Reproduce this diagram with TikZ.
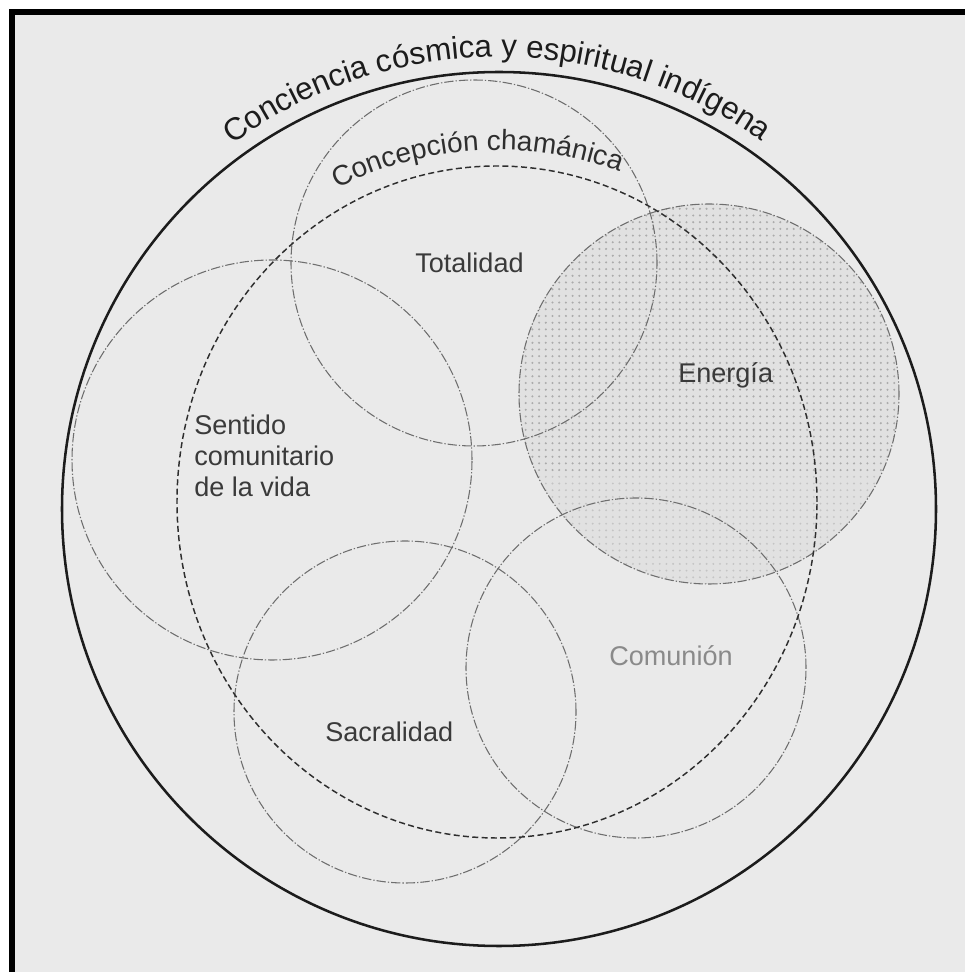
\documentclass[tikz,border=0pt]{standalone}
\usepackage{fontspec}
\setmainfont{Liberation Sans}
\usetikzlibrary{decorations.text}
\definecolor{bg}{HTML}{EAEAEA}
\definecolor{outerline}{HTML}{1C1C1C}
\definecolor{conline}{HTML}{2E2E2E}
\definecolor{thingray}{HTML}{6E6E6E}
\definecolor{labgray}{HTML}{3A3A3A}
\definecolor{comgray}{HTML}{8A8A8A}
\definecolor{dotgray}{HTML}{ABABAB}
\definecolor{dotlight}{HTML}{C4C4C4}
\definecolor{energybg}{HTML}{E1E1E1}
\newcommand{\outerfont}{\fontsize{23.5}{28}\selectfont\color{outerline}}
\newcommand{\confont}{\fontsize{21}{25}\selectfont\color{conline}}
\begin{document}
\begin{tikzpicture}[x=0.75pt,y=0.75pt,
  lab/.style={font=\fontsize{20.3}{23.25}\selectfont, text=labgray, inner sep=0pt, anchor=base west},
  thincirc/.style={draw=thingray, line width=0.8pt, dash pattern=on 7pt off 1.5pt on 1pt off 1.5pt},
  outercirc/.style={draw=outerline, line width=1.9pt},
  concirc/.style={draw=conline, line width=1.1pt, dash pattern=on 4.5pt off 2.5pt}]
\useasboundingbox (0,0) rectangle (965,972);
% page, grey sheet and frame
\fill[white] (0,0) rectangle (965,972);
\fill[bg] (15,0) rectangle (965,957);
\fill[black] (9,0) rectangle (15,963);
\fill[black] (9,957) rectangle (965,963);
% Energia: stippled disc
\begin{scope}
  \clip (709,578) circle (190);
  \fill[energybg] (709,578) circle (190);
  \foreach \i in {0,...,57} {
    \foreach \j in {0,...,57} {
      \ifnum\j<17
        \fill[dotlight] (519+\i*6.7, 388+\j*6.7) circle (1.05);
      \else
        \fill[dotgray] (519+\i*6.7, 388+\j*6.7) circle (1.15);
      \fi
    }
  }
\end{scope}
% thin circles
\draw[thincirc] (709,578) circle (190);
\draw[thincirc] (474,709) circle (183);
\draw[thincirc] (272,512) circle (200);
\draw[thincirc] (636,304) circle (170);
\draw[thincirc] (405,260) circle (171);
% Concepcion chamanica (dashed)
\draw[concirc] (497,470) ellipse [x radius=320, y radius=336];
% outer circle
\draw[outercirc] (499,463) circle (437);
% curved titles
\path[decorate, decoration={text along path, text align=center,
      text={|\outerfont|Conciencia cósmica y espiritual indígena}}]
  ([shift={(126.3:452)}]499,463) arc[start angle=126.3, end angle=54.3, radius=452];
\path[decorate, decoration={text along path, text align=center,
      text={|\confont|Concepción chamánica}}]
  ([shift={(117:352)}]497,470) arc[start angle=117, end angle=69.6, radius=352];
% labels
\node[lab] (totalidad) at (415,699) {Totalidad};
\node[lab] (energia) at (678,589) {Energía};
\node[lab, align=left] (sentido) at (194,475) {Sentido\\comunitario\\de la vida};
\node[lab, text=comgray] (comunion) at (609,306) {Comunión};
\node[lab] (sacralidad) at (325,230) {Sacralidad};
\end{tikzpicture}
\end{document}
